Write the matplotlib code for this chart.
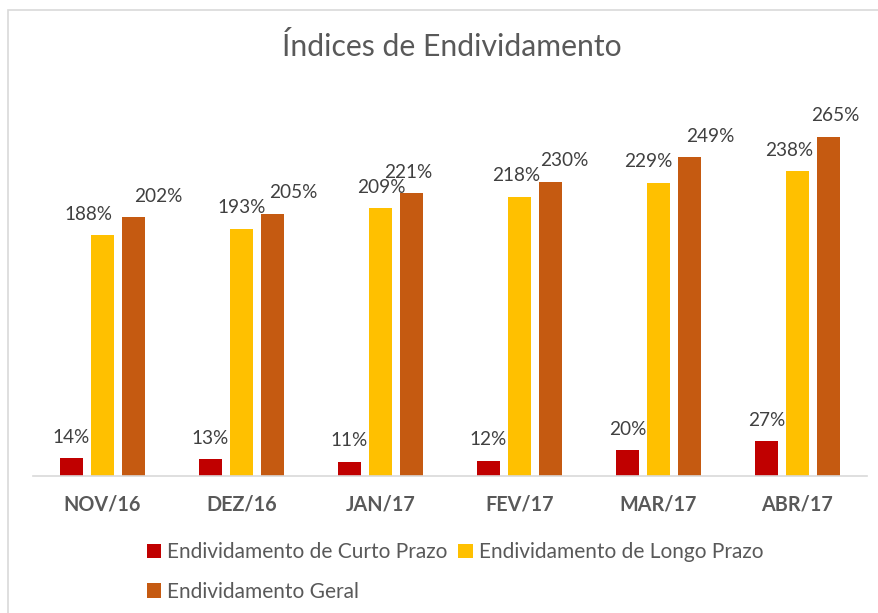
import matplotlib
matplotlib.use("Agg")
import matplotlib.pyplot as plt
from matplotlib.patches import Rectangle
import numpy as np

plt.rcParams['font.family'] = ['Lato', 'DejaVu Sans']

# data
months = ['NOV/16', 'DEZ/16', 'JAN/17', 'FEV/17', 'MAR/17', 'ABR/17']
curto = [14, 13, 11, 12, 20, 27]
longo = [188, 193, 209, 218, 229, 238]
geral = [202, 205, 221, 230, 249, 265]
series_names = ['Endividamento de Curto Prazo', 'Endividamento de Longo Prazo',
                'Endividamento Geral']
colors = ['#C00000', '#FFC000', '#C55A11']
text_gray = '#595959'

# label nudges (points) like excel's overlap avoidance
label_dx = [[0, 0, 0, 0, 0, 0],
            [-10, 0, 1, -2, -7, -6],
            [18, 15, -2, 10, 15, 5]]

fig = plt.figure(figsize=(8.79, 6.13), dpi=100)
ax = fig.add_axes([0.0375, 0.2235, 0.9485, 0.6265])

# chart border
fig.patches.append(Rectangle((8 / 879, -0.01), 1.0, 1 - 10 / 613 + 0.01,
                             transform=fig.transFigure, fill=False,
                             edgecolor='#D9D9D9', lw=1.2))

x = np.arange(len(months))
w = 0.165
step = 0.223
bars = []
for i, (vals, c) in enumerate(zip([curto, longo, geral], colors)):
    b = ax.bar(x + (i - 1) * step, vals, w, color=c, label=series_names[i])
    bars.append(b)
    for j, (rect, v) in enumerate(zip(b, vals)):
        ax.annotate(f'{v}%', (rect.get_x() + rect.get_width() / 2, rect.get_height()),
                    xytext=(label_dx[i][j], 9), textcoords='offset points', ha='center',
                    va='bottom', fontsize=13.7, color='#404040')

ax.set_xlim(-0.5, len(months) - 0.5)
ax.set_ylim(0, 300)
ax.set_yticks([])
ax.set_xticks(x)
ax.set_xticklabels(months, fontsize=14.2, fontweight='bold', color=text_gray)
ax.tick_params(axis='x', length=0, pad=13)
for s in ['top', 'right', 'left']:
    ax.spines[s].set_visible(False)
ax.spines['bottom'].set_color('#D9D9D9')
ax.spines['bottom'].set_linewidth(1.2)

fig.text(452 / 879, 1 - 47 / 613, 'Índices de Endividamento', ha='center',
         va='center', fontsize=21.7, color=text_gray)

handles = [bars[0], bars[2], bars[1]]
labels = [series_names[0], series_names[2], series_names[1]]
fig.legend(handles, labels, ncol=2, loc='center', bbox_to_anchor=(455 / 879, 1 - 572 / 613),
           frameon=False, fontsize=15, labelcolor=text_gray, handlelength=0.7,
           handleheight=0.7, handletextpad=0.3, columnspacing=0.5, labelspacing=0.95)

fig.savefig('out.png', dpi=100)
